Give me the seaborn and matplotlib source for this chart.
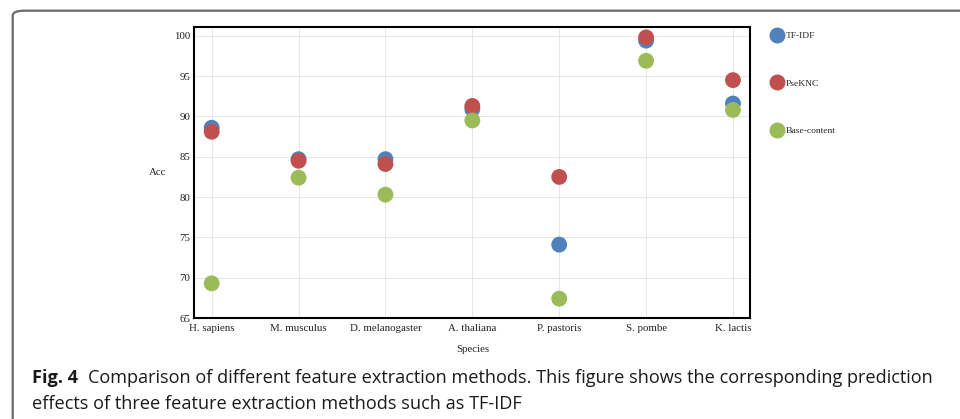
import numpy as np
import pandas as pd
from matplotlib import pyplot as plt
from matplotlib.patches import FancyBboxPatch
import seaborn as sns

species = ['H. sapiens', 'M. musculus', 'D. melanogaster', 'A. thaliana',
           'P. pastoris', 'S. pombe', 'K. lactis']
tfidf = [88.6, 84.7, 84.7, 90.9, 74.1, 99.4, 91.6]
pseknc = [88.1, 84.5, 84.1, 91.3, 82.5, 99.8, 94.5]
base_content = [69.3, 82.4, 80.3, 89.5, 67.4, 96.9, 90.8]
methods = ['TF-IDF', 'PseKNC', 'Base-content']
colors = ['#4F81BD', '#C0504D', '#9BBB59']

df = pd.DataFrame({'Species': species * 3,
                   'Acc': tfidf + pseknc + base_content,
                   'Method': np.repeat(methods, len(species))})

sns.set_style('white')
plt.rcParams['font.family'] = ['Liberation Serif', 'DejaVu Serif']

fig = plt.figure(figsize=(9.6, 4.19), dpi=100)
ax = fig.add_axes([0.2024, 0.241, 0.5792, 0.6938])

sns.scatterplot(data=df, x='Species', y='Acc', hue='Method', palette=colors,
                s=130, linewidth=0, alpha=1, ax=ax, zorder=3)

ax.set_xlim(-0.2, 6.2)
ax.set_ylim(65, 101.05)
ax.set_yticks(range(65, 101, 5))
ax.grid(True, color='#e6e6e6', linewidth=0.7)
ax.set_axisbelow(True)
for sp in ax.spines.values():
    sp.set_color('black')
    sp.set_linewidth(1.5)
ax.tick_params(axis='both', labelsize=7.8, length=0, colors='#222222')
ax.tick_params(axis='y', pad=3)
ax.tick_params(axis='x', pad=4)
ax.set_xlabel('Species', fontsize=7.8, labelpad=9)
ax.set_ylabel('Acc', fontsize=7.8, rotation=0, labelpad=12, va='center')

leg = ax.legend(loc='upper left', bbox_to_anchor=(1.025, 0.998), frameon=False,
                fontsize=6.8, labelspacing=4.1, handletextpad=-0.1,
                borderaxespad=0)
for h in leg.legend_handles:
    h.set_markersize(11.5)

# journal frame
frame = FancyBboxPatch((12.7 / 960, -0.1), 1.2, 1.1 - 10.7 / 419,
                       boxstyle='round,pad=0,rounding_size=0.012',
                       transform=fig.transFigure, fill=False,
                       edgecolor='#6a6a6a', linewidth=1.6, clip_on=False)
fig.patches.append(frame)

cap = dict(family='Open Sans', fontsize=13.1, color='#1a1a1a', va='baseline')
t = fig.text(31.7 / 960, 1 - 383 / 419, 'Fig. 4', fontweight='bold', **cap)
fig.canvas.draw()
bb = t.get_window_extent()
fig.text((bb.x1 + 10) / 960, 1 - 383 / 419,
         'Comparison of different feature extraction methods. This figure shows the corresponding prediction',
         **cap)
fig.text(31.7 / 960, 1 - 409 / 419,
         'effects of three feature extraction methods such as TF-IDF', **cap)

fig.savefig('out.png', dpi=100)
